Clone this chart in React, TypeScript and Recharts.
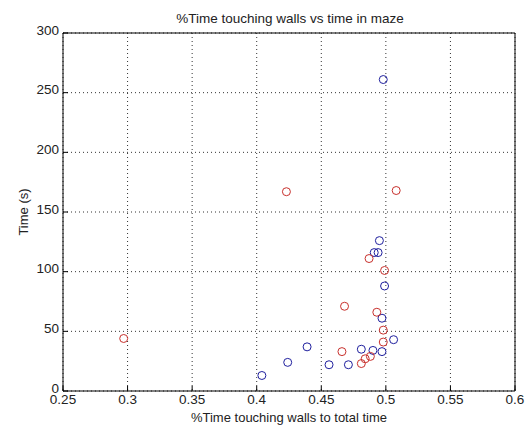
import React from 'react';
import {
  ScatterChart,
  Scatter,
  XAxis,
  YAxis,
  CartesianGrid,
  ReferenceLine,
  Label,
} from 'recharts';

// values
const redPoints = [
  { x: 0.297, y: 44 },
  { x: 0.423, y: 167 },
  { x: 0.508, y: 168 },
  { x: 0.468, y: 71 },
  { x: 0.466, y: 33 },
  { x: 0.487, y: 111 },
  { x: 0.499, y: 101 },
  { x: 0.493, y: 66 },
  { x: 0.498, y: 51 },
  { x: 0.498, y: 41 },
  { x: 0.488, y: 29 },
  { x: 0.484, y: 27 },
  { x: 0.481, y: 23 },
];

const bluePoints = [
  { x: 0.498, y: 261 },
  { x: 0.495, y: 126 },
  { x: 0.491, y: 116 },
  { x: 0.494, y: 116 },
  { x: 0.499, y: 88 },
  { x: 0.497, y: 61 },
  { x: 0.506, y: 43 },
  { x: 0.481, y: 35 },
  { x: 0.49, y: 34 },
  { x: 0.497, y: 33 },
  { x: 0.439, y: 37 },
  { x: 0.424, y: 24 },
  { x: 0.404, y: 13 },
  { x: 0.456, y: 22 },
  { x: 0.471, y: 22 },
];

const xTicks = [0.25, 0.3, 0.35, 0.4, 0.45, 0.5, 0.55, 0.6];
const yTicks = [0, 50, 100, 150, 200, 250, 300];

const FONT = '"Liberation Sans", Arial, sans-serif';
const tickStyle = { fontSize: 13.5, fill: '#222', fontFamily: FONT };

function OpenCircle(color: string) {
  return (props: any) => {
    const { cx, cy } = props;
    if (cx == null || cy == null) return null;
    return <circle cx={cx} cy={cy} r={4} fill="none" stroke={color} strokeWidth={1} />;
  };
}

export default function App() {
  return (
    <div style={{ position: 'absolute', left: 0, top: 0, background: '#fff' }}>
      <ScatterChart
        width={530}
        height={428}
        margin={{ top: 33, right: 15, bottom: 3, left: 23 }}
      >
        <text
          x={290}
          y={23}
          textAnchor="middle"
          style={{ fontSize: 13.5, fontFamily: FONT, fill: '#222' }}
        >
          %Time touching walls vs time in maze
        </text>
        <CartesianGrid xAxisId="b" yAxisId="l" stroke="#333" strokeDasharray="1 3" />
        <XAxis
          xAxisId="b"
          type="number"
          dataKey="x"
          domain={[0.25, 0.6]}
          ticks={xTicks}
          tickFormatter={(v: number) => String(+v.toFixed(2))}
          tick={tickStyle}
          tickSize={-5}
          tickMargin={8}
          height={34}
          stroke="#000"
          allowDataOverflow
        >
          <Label
            value="%Time touching walls to total time"
            position="insideBottom"
            offset={3}
            style={{ fontSize: 13, fontFamily: FONT, fill: '#222' }}
          />
        </XAxis>
        <YAxis
          yAxisId="l"
          type="number"
          dataKey="y"
          domain={[0, 300]}
          ticks={yTicks}
          tick={{ ...tickStyle, dy: -3 }}
          tickSize={-5}
          tickMargin={9}
          width={40}
          stroke="#000"
          allowDataOverflow
        >
          <Label
            value="Time (s)"
            angle={-90}
            position="insideLeft"
            offset={0}
            style={{ fontSize: 13, fontFamily: FONT, fill: '#222', textAnchor: 'middle' }}
          />
        </YAxis>
        {/* box edges on top and right */}
        <ReferenceLine xAxisId="b" yAxisId="l" y={300} stroke="#000" strokeWidth={1} />
        <ReferenceLine xAxisId="b" yAxisId="l" x={0.6} stroke="#000" strokeWidth={1} />
        <Scatter
          xAxisId="b"
          yAxisId="l"
          data={bluePoints}
          shape={OpenCircle('#1f1f9e')}
          isAnimationActive={false}
        />
        <Scatter
          xAxisId="b"
          yAxisId="l"
          data={redPoints}
          shape={OpenCircle('#c8302c')}
          isAnimationActive={false}
        />
      </ScatterChart>
    </div>
  );
}
